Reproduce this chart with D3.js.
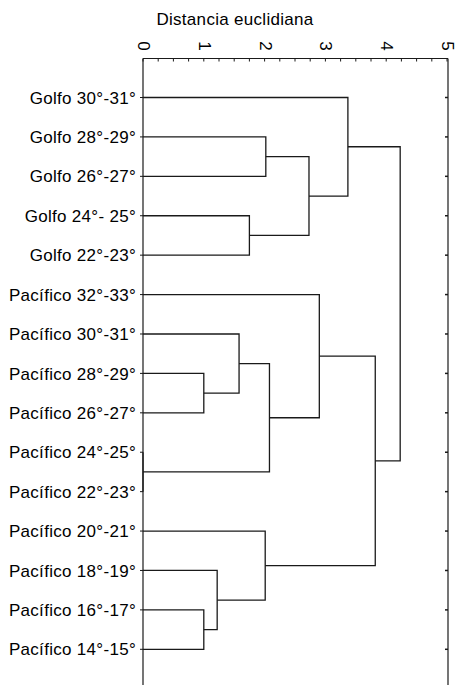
<!DOCTYPE html>
<html><head><meta charset="utf-8">
<script src="https://cdn.jsdelivr.net/npm/d3@7"></script>
<style>body{margin:0;background:#fff}svg{display:block}</style>
</head><body><svg id="c" width="456" height="685"></svg>
<script>
const leaves = [
  "Golfo 30°-31°","Golfo 28°-29°","Golfo 26°-27°","Golfo 24°- 25°","Golfo 22°-23°",
  "Pacífico 32°-33°","Pacífico 30°-31°","Pacífico 28°-29°","Pacífico 26°-27°",
  "Pacífico 24°-25°","Pacífico 22°-23°","Pacífico 20°-21°","Pacífico 18°-19°",
  "Pacífico 16°-17°","Pacífico 14°-15°"
];
// linkage: [child A, child B, euclidean distance]; ids >= 15 refer to earlier merges
const merges = [
  [1, 2, 2.02],
  [3, 4, 1.75],
  [15, 16, 2.73],
  [0, 17, 3.37],
  [7, 8, 1.00],
  [6, 19, 1.58],
  [9, 10, 0.00],
  [20, 21, 2.08],
  [5, 22, 2.90],
  [13, 14, 1.00],
  [12, 24, 1.22],
  [11, 25, 2.01],
  [23, 26, 3.82],
  [18, 27, 4.23]
];
const xTicks = [0, 1, 2, 3, 4, 5];
const xTitle = "Distancia euclidiana";

const svg = d3.select("#c");
const font = "'Liberation Sans', Arial, sans-serif";
const pL = 143, pR = 447, pT = 58.5, pB = 690;
const x = d3.scaleLinear().domain([0, 5]).range([pL, pR]);
const y = d3.scaleLinear().domain([0, leaves.length - 1]).range([97.5, 649.3]);

// nodes
const nodes = leaves.map((name, i) => ({name, h: 0, y: y(i)}));
merges.forEach(([a, b, h]) => {
  nodes.push({a, b, h, y: (nodes[a].y + nodes[b].y) / 2});
});

const ink = "#1a1a1a";

// frame
svg.append("line").attr("x1", pL).attr("x2", pL).attr("y1", pT).attr("y2", pB)
  .attr("stroke", ink).attr("stroke-width", 1.2);
svg.append("line").attr("x1", pR + 1).attr("x2", pR + 1).attr("y1", pT).attr("y2", pB)
  .attr("stroke", ink).attr("stroke-width", 1.2);

// top axis
const axis = d3.axisTop(x).tickValues(xTicks).tickSize(0).tickPadding(0).tickFormat(d3.format("d"));
const gA = svg.append("g").attr("transform", `translate(0,${pT})`).call(axis);
gA.select(".domain").attr("stroke", ink).attr("stroke-width", 1.2).attr("d", `M${pL},0H${pR + 1}`);
gA.selectAll(".tick text")
  .attr("font-family", font).attr("font-size", 17).attr("fill", "#000")
  .attr("text-anchor", "middle").attr("dy", null).attr("y", null)
  .attr("dominant-baseline", "central")
  .attr("transform", "translate(0,-12.5) rotate(90)");
// minor ticks (inside)
const minor = d3.range(0, 5.0001, 0.25);
svg.append("g").selectAll("line").data(minor).join("line")
  .attr("x1", d => x(d)).attr("x2", d => x(d))
  .attr("y1", pT).attr("y2", pT + 3)
  .attr("stroke", ink).attr("stroke-width", 1);

svg.append("text").attr("x", 235).attr("y", 25).attr("text-anchor", "middle")
  .attr("font-family", font).attr("font-size", 17).attr("letter-spacing", 0.3)
  .attr("fill", "#000").text(xTitle);

// leaf ticks
svg.append("g").selectAll("line").data(leaves).join("line")
  .attr("x1", pL - 3).attr("x2", pL).attr("y1", (d, i) => y(i)).attr("y2", (d, i) => y(i))
  .attr("stroke", ink).attr("stroke-width", 1);
svg.append("g").selectAll("line").data(leaves).join("line")
  .attr("x1", pR - 2).attr("x2", pR + 1).attr("y1", (d, i) => y(i)).attr("y2", (d, i) => y(i))
  .attr("stroke", ink).attr("stroke-width", 1.5);

// labels
svg.append("g").selectAll("text").data(leaves).join("text")
  .attr("x", 136).attr("y", (d, i) => y(i)).attr("dy", "0.36em")
  .attr("text-anchor", "end").attr("font-family", font).attr("font-size", 17)
  .attr("letter-spacing", 0.3).attr("fill", "#000")
  .text(d => d);

// dendrogram elbows
svg.append("g").selectAll("path").data(nodes.filter(n => n.a !== undefined)).join("path")
  .attr("fill", "none").attr("stroke", ink).attr("stroke-width", 1.3)
  .attr("d", n => {
    const A = nodes[n.a], B = nodes[n.b];
    return `M${x(A.h)},${A.y}H${x(n.h)}V${B.y}H${x(B.h)}`;
  });
</script></body></html>
